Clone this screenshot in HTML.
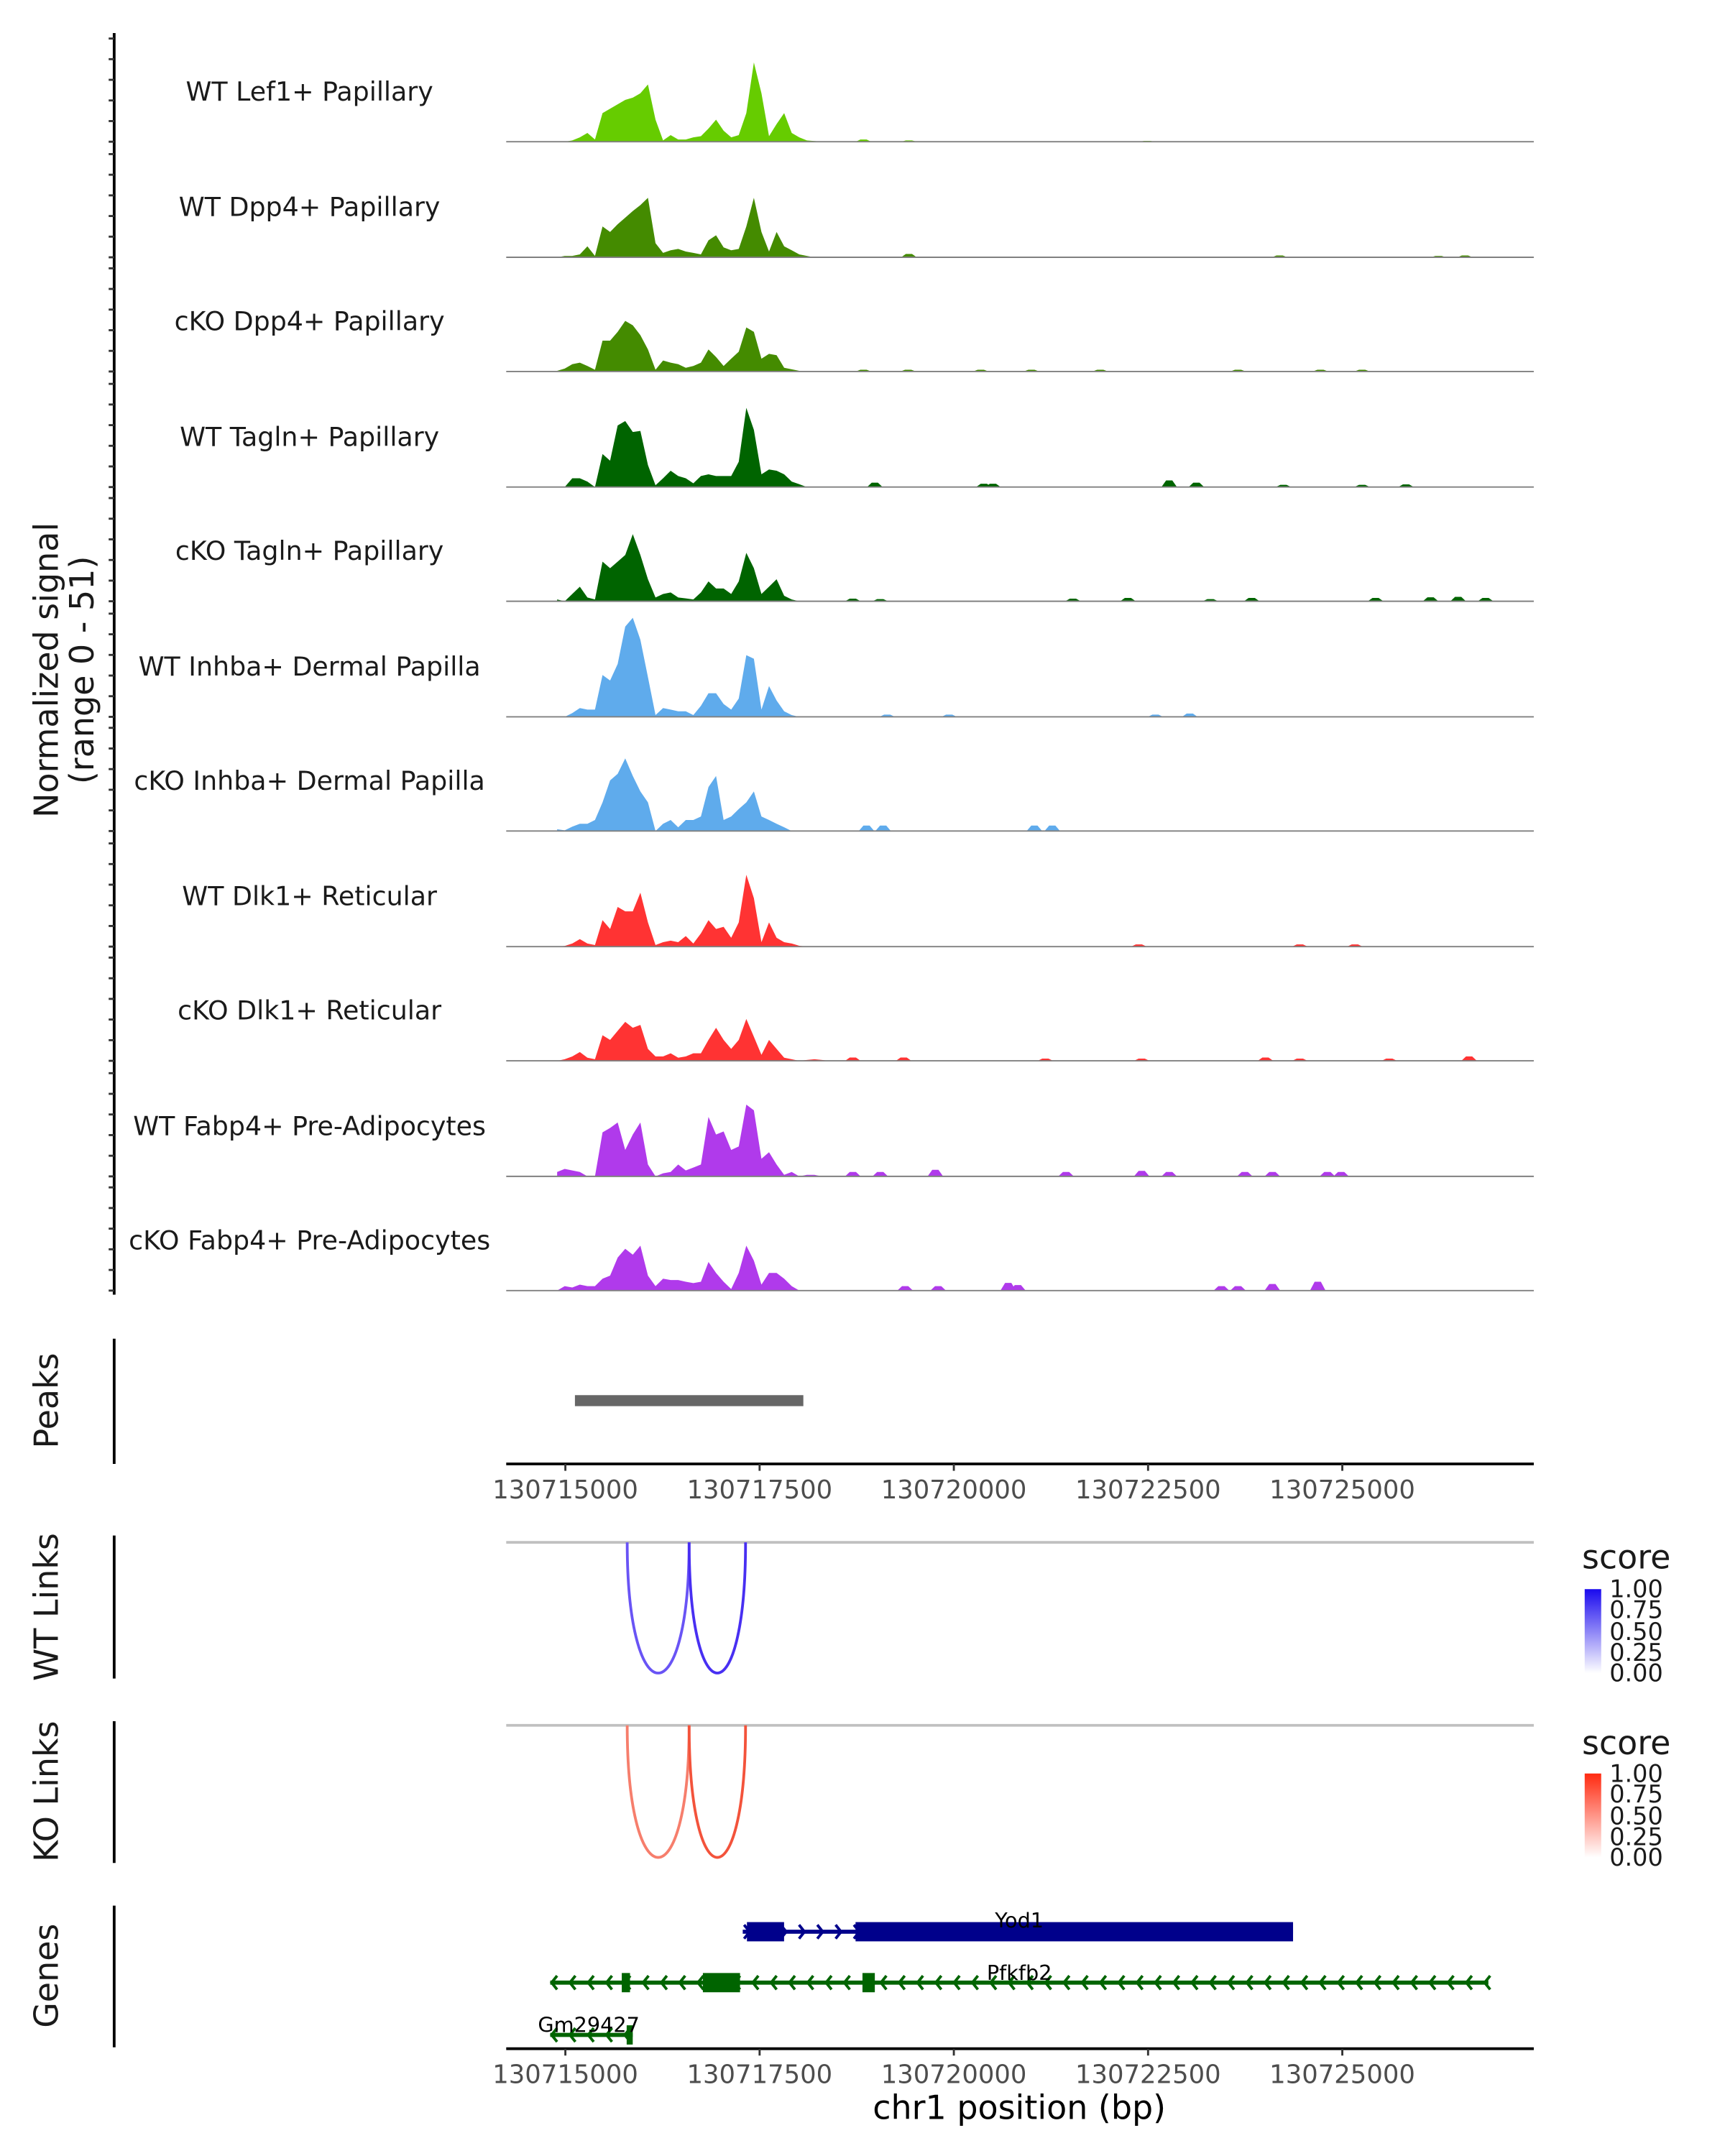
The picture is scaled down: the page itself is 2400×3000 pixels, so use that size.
<!DOCTYPE html>
<html><head><meta charset="utf-8"><style>
html,body{margin:0;padding:0;background:#fff;}
svg{display:block;font-family:"DejaVu Sans","Liberation Sans",sans-serif;}
</style></head><body>
<svg id="chart" width="2400" height="3000" viewBox="0 0 1254 1567" preserveAspectRatio="none" xmlns="http://www.w3.org/2000/svg">
<g id="tracks"></g>
<line x1="83" y1="24" x2="83" y2="941" stroke="#000" stroke-width="2"/>
<g id="yticks"></g>
<text transform="translate(42,487) rotate(-90)" text-anchor="middle" font-size="24" fill="#1a1a1a">Normalized signal</text>
<text transform="translate(68,487) rotate(-90)" text-anchor="middle" font-size="24" fill="#1a1a1a">(range 0 - 51)</text>

<line x1="83" y1="973" x2="83" y2="1064" stroke="#000" stroke-width="2"/>
<text transform="translate(42,1018) rotate(-90)" text-anchor="middle" font-size="24" fill="#1a1a1a">Peaks</text>
<g id="peaks"></g>
<g id="xaxis1"></g>

<line x1="83" y1="1116" x2="83" y2="1220" stroke="#000" stroke-width="2"/>
<text transform="translate(42,1168) rotate(-90)" text-anchor="middle" font-size="24" fill="#1a1a1a">WT Links</text>
<line x1="83" y1="1251" x2="83" y2="1354" stroke="#000" stroke-width="2"/>
<text transform="translate(42,1302) rotate(-90)" text-anchor="middle" font-size="24" fill="#1a1a1a">KO Links</text>
<g id="links"></g>

<defs>
<linearGradient id="gBlue" x1="0" y1="0" x2="0" y2="1"><stop offset="0" stop-color="#1a0aee"/><stop offset="1" stop-color="#ffffff"/></linearGradient>
<linearGradient id="gRed" x1="0" y1="0" x2="0" y2="1"><stop offset="0" stop-color="#ff2a10"/><stop offset="1" stop-color="#ffffff"/></linearGradient>
</defs>
<g>
<text x="1150" y="1140" font-size="24" fill="#1a1a1a">score</text>
<rect x="1152" y="1155" width="12" height="61" fill="url(#gBlue)"/>
<g font-size="17.5" fill="#1a1a1a"><text x="1170" y="1161">1.00</text><text x="1170" y="1176">0.75</text><text x="1170" y="1192">0.50</text><text x="1170" y="1207">0.25</text><text x="1170" y="1222">0.00</text></g>
</g>
<g>
<text x="1150" y="1275" font-size="24" fill="#1a1a1a">score</text>
<rect x="1152" y="1289" width="12" height="61" fill="url(#gRed)"/>
<g font-size="17.5" fill="#1a1a1a"><text x="1170" y="1295">1.00</text><text x="1170" y="1310">0.75</text><text x="1170" y="1326">0.50</text><text x="1170" y="1341">0.25</text><text x="1170" y="1356">0.00</text></g>
</g>

<line x1="83" y1="1385" x2="83" y2="1488" stroke="#000" stroke-width="2"/>
<text transform="translate(42,1436) rotate(-90)" text-anchor="middle" font-size="24" fill="#1a1a1a">Genes</text>
<g id="genes"></g>
<g id="xaxis2"></g>
<text x="741" y="1540" text-anchor="middle" font-size="24" fill="#000">chr1 position (bp)</text>
</svg>
<script>
// ---- data ----
const binStart = 130714894;
const binStep = 97.4;
const trackNames = ["WT Lef1+ Papillary","WT Dpp4+ Papillary","cKO Dpp4+ Papillary","WT Tagln+ Papillary","cKO Tagln+ Papillary","WT Inhba+ Dermal Papilla","cKO Inhba+ Dermal Papilla","WT Dlk1+ Reticular","cKO Dlk1+ Reticular","WT Fabp4+ Pre-Adipocytes","cKO Fabp4+ Pre-Adipocytes"];
const trackColors = ["#66cc00","#448b00","#448b00","#006400","#006400","#5fabec","#5fabec","#ff3333","#ff3333","#b03aeb","#b03aeb"];
const sigLef1 = [0,0,0.6,2,4,1,13,15,17,19,20,22,26,10,0.6,3,1,1,2,2.5,6,10,5,2,3,13,36,22,2.5,8,13,4,2,0.6,0.3,0,0];
const sigWtDpp4 = [0,0.6,0.6,1.3,5,0.6,14,11.5,15,18,21,23.7,27,6.4,2,3.2,3.8,2.6,2,1.3,7.7,10,4.5,3.2,3.8,14,27,11.5,2.6,11.5,5,3.2,1.3,0.6,0,0,0];
const sigKoDpp4 = [0.3,1.3,3.3,4,2.5,0.8,14,14,18,23,21,16.5,10,0.8,5,4,3.3,1.7,2.5,4,10,6.6,2.5,5.8,9,20,18,5.8,8,7.4,1.7,1,0.3,0,0,0,0];
const sigWtTagln = [0,0,4,4,2.5,0,15,12,28,30,25,25.5,10,0.8,4,7.4,5,4,1.7,5,5.8,5,5,5,11.5,36,26,5.8,8,7.4,5.8,2.5,1.3,0,0,0,0];
const sigKoTagln = [0.8,0,3.3,6.6,1.7,0.8,18,15,18,21,30.5,21,10,1.7,3.3,4,1.7,1.3,0.8,4,9,5.8,5.8,3.3,9,22,15,3.3,6.6,10,2.5,0.8,0,0,0,0,0];
const sigWtInhba = [0.3,0,1.7,4,3.3,3.3,19,16.5,24,41,45,35,18,0.8,4,3.3,2.5,2.5,0.8,5,10.7,10.7,5.8,3.3,8.3,28,26.4,3.3,14,7.4,2.5,0.8,0,0,0,0,0];
const sigKoInhba = [0.8,0.3,2,3.3,3.3,5,13,23,26,33,25,18,13,0,3.3,5,1.7,5,5,6.6,20,25,5,6.6,10,13,18,6.6,5,3.3,1.7,0,0,0,0,0,0];
const sigWtDlk1 = [0,0.3,1.4,3.4,1.4,0.7,12,8,18,16,16,24.5,11,0.7,2,2.7,2,4.8,1.4,6,12,8,9,4,11,32.6,22,2,11,4,2,1.4,0.4,0,0,0,0];
const sigKoDlk1 = [0,0.7,2,4,1.4,0.7,11.6,9.5,13.6,17.7,15,16.3,5.4,2,2,3.4,1.4,2,3.4,3.4,9.5,15,9.5,5.4,9.5,19,10.9,2.7,9.5,5.4,1.4,0.7,0,0.4,0.7,0.4,0];
const sigWtFabp4 = [2,3.4,2.7,2,0,0,20,22,24.5,12,19,24.5,5.4,0,1.4,2,5.4,2.7,4,5.4,27,19,20.4,12,13.6,32.6,30,8,11,5.4,0.7,2,0,0.7,0.7,0,0];
const sigKoFabp4 = [0,2,1.4,2.7,2,2,5.4,6.8,15,19,16.3,20.4,6.8,2,5.4,4.8,4.8,4,3.4,4,13,8,4,0.7,8,20.4,13.6,2.7,8,8,5.4,2,0,0,0,0,0];
const bumpsLef1 = [[130718837,1],[130719422,0.6],[130722489,0.4]];
const bumpsWtDpp4 = [[130719422,1.5],[130724193,0.8],[130726238,0.6],[130726579,0.8]];
const bumpsKoDpp4 = [[130718837,0.8],[130719412,0.8],[130720347,0.8],[130720999,0.8],[130721885,0.8],[130723658,0.8],[130724719,0.8],[130725255,0.8]];
const bumpsWtTagln = [[130718983,2],[130720386,1.5],[130720503,1.5],[130722772,3],[130723122,2],[130724242,1],[130725255,1],[130725820,1.2]];
const bumpsKoTagln = [[130718700,1.2],[130719053,1],[130721533,1.2],[130722241,1.5],[130723303,1],[130723834,1.5],[130725428,1.5],[130726136,1.8],[130726491,2],[130726844,1.5]];
const bumpsWtInhba = [[130719142,1],[130719940,1],[130722595,1],[130723037,1.5]];
const bumpsKoInhba = [[130718876,2.5],[130719090,2.5],[130721037,2.5],[130721267,2.5]];
const bumpsWtDlk1 = [[130722382,1],[130724454,1],[130725162,1]];
const bumpsKoDlk1 = [[130718700,1.5],[130719354,1.5],[130721178,1],[130722418,1],[130724011,1.5],[130724454,1],[130725605,1],[130726632,2]];
const bumpsWtFabp4 = [[130718700,2],[130719053,2],[130719762,3],[130721444,2],[130722418,2.5],[130722772,2],[130723745,2],[130724100,2],[130724808,2],[130724985,2]];
const bumpsKoFabp4 = [[130719373,2],[130719798,2],[130720700,3.5],[130720824,2.5],[130723444,2],[130723658,2],[130724100,3],[130724684,4]];
const signals = [sigLef1,sigWtDpp4,sigKoDpp4,sigWtTagln,sigKoTagln,sigWtInhba,sigKoInhba,sigWtDlk1,sigKoDlk1,sigWtFabp4,sigKoFabp4];
const bumps = [bumpsLef1,bumpsWtDpp4,bumpsKoDpp4,bumpsWtTagln,bumpsKoTagln,bumpsWtInhba,bumpsKoInhba,bumpsWtDlk1,bumpsKoDlk1,bumpsWtFabp4,bumpsKoFabp4];
const peakStart = [130715123];
const peakEnd = [130718063];
const xTicks = [130715000,130717500,130720000,130722500,130725000];
const wtLinkStart = [130715796,130716593];
const wtLinkEnd = [130716593,130717319];
const wtLinkScore = [0.7,0.85];
const koLinkStart = [130715796,130716593];
const koLinkEnd = [130716593,130717319];
const koLinkScore = [0.6,0.8];
const geneNames = ["Yod1","Pfkfb2","Gm29427"];
const geneStart = [130717283,130714805,130714805];
const geneEnd = [130724366,130726880,130715867];
const geneStrand = ["+","-","-"];
const yod1Exons = [[130717337,130717815],[130718735,130724366]];
const pfkfb2Exons = [[130715726,130715832],[130716770,130717248],[130718824,130718983]];
const gm29427Exons = [[130715789,130715867]];
const geneExons = [yod1Exons,pfkfb2Exons,gm29427Exons];
const yMax = 51;

// ---- scales ----
const X0 = 368, X1 = 1115;
const x = bp => 411 + (bp - 130715000) * 0.05648;
const baselines = [103,187,270,354,437,521,604,688,771,855,938];
const yPx = v => v * 1.6;
const NS = "http://www.w3.org/2000/svg";
function mk(tag, attrs, parent){const e=document.createElementNS(NS,tag);for(const k in attrs)e.setAttribute(k,attrs[k]);parent.appendChild(e);return e;}

// ---- coverage tracks ----
const gT = document.getElementById("tracks");
const gY = document.getElementById("yticks");
signals.forEach((sig, t) => {
  const b = baselines[t];
  const g = mk("g", {}, gT);
  
  
  let d = "M" + x(binStart) + "," + b;
  sig.forEach((v, i) => { d += " L" + x(binStart + i*binStep).toFixed(2) + "," + (b - yPx(v)).toFixed(2); });
  d += " L" + x(binStart + (sig.length-1)*binStep).toFixed(2) + "," + b + " Z";
  const p = mk("path", {d: d, fill: trackColors[t]}, g);
  
  
  bumps[t].forEach(bm => {
    const xc = x(bm[0]), w = x(bm[0]+100) - xc;
    const bp2 = mk("path", {d: "M"+(xc-w)+","+b+" L"+(xc-w*0.4)+","+(b-yPx(bm[1]))+" L"+(xc+w*0.4)+","+(b-yPx(bm[1]))+" L"+(xc+w)+","+b+" Z", fill: trackColors[t]}, g);
    
    
  });
  const bl = mk("line", {x1: X0, x2: X1, y1: b, y2: b, stroke: "#808080", "stroke-width": 1}, g);
  
  
  const lab = mk("text", {x: 225, y: b - 30, "text-anchor": "middle", "font-size": 19, fill: "#1a1a1a"}, g);
  lab.textContent = trackNames[t];
  
  
  for (let v = 0; v <= 50; v += 10) {
    const tk = mk("line", {x1: 79, x2: 83, y1: b - v*1.5, y2: b - v*1.5, stroke: "#333", "stroke-width": 1.5}, gY);
    
    
  }
});

// ---- peaks ----
const gP = document.getElementById("peaks");
peakStart.forEach((s, i) => {
  const r = mk("rect", {x: x(s), y: 1014, width: x(peakEnd[i]) - x(s), height: 8, fill: "#666"}, gP);
  
  
});

// ---- x axes ----
function xAxis(gid, y0){
  const g = document.getElementById(gid);
  const l = mk("line", {x1: X0, x2: X1, y1: y0, y2: y0, stroke: "#000", "stroke-width": 2}, g);
  
  
  xTicks.forEach(tv => {
    const tk = mk("line", {x1: x(tv), x2: x(tv), y1: y0, y2: y0 + 5, stroke: "#333", "stroke-width": 1.5}, g);
    
    
    const tx = mk("text", {x: x(tv), y: y0 + 25, "text-anchor": "middle", "font-size": 18.5, fill: "#4d4d4d"}, g);
    tx.textContent = String(tv);
    
    
  });
}
xAxis("xaxis1", 1064);
xAxis("xaxis2", 1489);

// ---- links ----
const gL = document.getElementById("links");
function mix(c1, c2, t){return "rgb(" + c1.map((c,i)=>Math.round(c2[i] + (c - c2[i]) * t)).join(",") + ")";}
function links(starts, ends, scores, y0, depth, col){
  const gl = mk("line", {x1: X0, x2: X1, y1: y0, y2: y0, stroke: "#c0c0c0", "stroke-width": 2}, gL);
  
  
  starts.forEach((s, i) => {
    const a = x(s), b = x(ends[i]), cy = y0 + depth * 4/3;
    const p = mk("path", {d: "M"+a+","+y0+" C"+a+","+cy+" "+b+","+cy+" "+b+","+y0, fill: "none", stroke: mix(col, [255,255,255], scores[i]), "stroke-width": 2}, gL);
    
    
  });
}
links(wtLinkStart, wtLinkEnd, wtLinkScore, 1121, 95, [40,10,240]);
links(koLinkStart, koLinkEnd, koLinkScore, 1254, 96, [240,40,10]);

// ---- genes ----
const gG = document.getElementById("genes");
const geneRows = [1404, 1441, 1479];
const geneColors = ["#00008b", "#006400", "#006400"];
const labelPos = [[741,1401],[741,1439],[428,1477]];
geneNames.forEach((nm, i) => {
  const g = mk("g", {}, gG);
  
  
  const y0 = geneRows[i], c = geneColors[i];
  const ln = mk("line", {x1: x(geneStart[i]), x2: x(geneEnd[i]), y1: y0, y2: y0, stroke: c, "stroke-width": 3}, g);
  
  
  const step = 13.3;
  for (let xx = x(geneStart[i]) + 3; xx <= x(geneEnd[i]); xx += step) {
    const dd = geneStrand[i] === "+" ? "M"+(xx-2)+","+(y0-5)+" L"+(xx+2)+","+y0+" L"+(xx-2)+","+(y0+5)
                                     : "M"+(xx+2)+","+(y0-5)+" L"+(xx-2)+","+y0+" L"+(xx+2)+","+(y0+5);
    const ar = mk("path", {d: dd, fill: "none", stroke: c, "stroke-width": 2}, g);
    
    
  }
  geneExons[i].forEach(ex => {
    const r = mk("rect", {x: x(ex[0]), y: y0 - 7, width: Math.max(3, x(ex[1]) - x(ex[0])), height: 14, fill: c}, g);
    
    
  });
  const tx = mk("text", {x: labelPos[i][0], y: labelPos[i][1], "text-anchor": "middle", "font-size": 15, fill: "#000"}, g);
  tx.textContent = nm;
  
  
});
</script>
</body></html>
